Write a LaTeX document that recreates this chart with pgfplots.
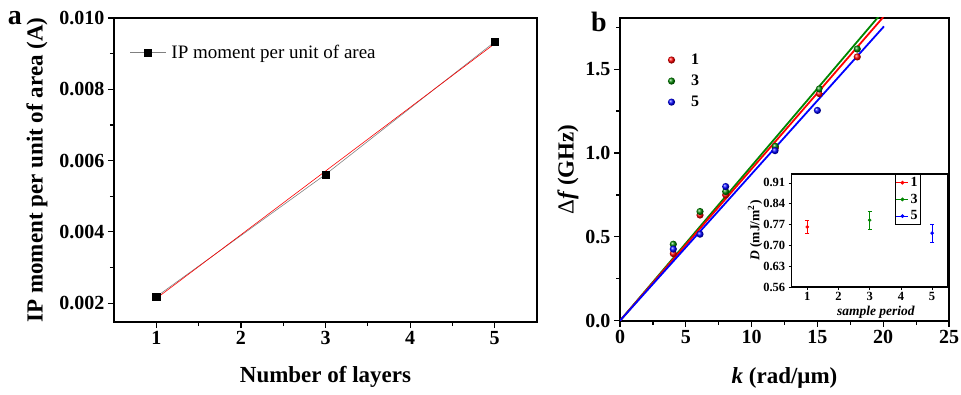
\documentclass[border=0pt]{standalone}
\usepackage{pgfplots}
\pgfplotsset{compat=1.18}
\usepackage{fontspec}
\setmainfont{Liberation Serif}
\definecolor{dgreen}{RGB}{0,135,0}
\begin{document}
\begin{tikzpicture}
\path[use as bounding box] (0pt,0pt) rectangle (961pt,394pt);
% ---------------- panel a ----------------
\begin{axis}[
  at={(114pt,72pt)}, anchor=south west, scale only axis,
  width=423pt, height=304pt,
  xmin=0.5, xmax=5.5, ymin=0.00147, ymax=0.010,
  xtick={1,2,3,4,5}, minor xtick={1.5,2.5,3.5,4.5},
  ytick={0.002,0.004,0.006,0.008,0.010}, minor ytick={0.003,0.005,0.007,0.009},
  scaled y ticks=false,
  xtick pos=bottom, ytick pos=left, tick align=outside,
  major tick length=6pt, minor tick length=4pt,
  axis line style={line width=1.6pt},
  every tick/.style={black, line width=1.2pt},
  /pgf/number format/assume math mode=true,
  tick label style={font=\fontsize{20}{22}\selectfont\bfseries},
  yticklabel style={/pgf/number format/.cd, fixed, fixed zerofill, precision=3, assume math mode=true},
  xlabel={Number of layers},
  ylabel={IP moment per unit of area (A)},
  xlabel style={at={(axis description cs:0.5,-0.181)}, anchor=center, font=\fontsize{23}{25}\selectfont\bfseries},
  ylabel style={at={(axis description cs:-0.182,0.5)}, rotate=0, anchor=center, font=\fontsize{23}{25}\selectfont\bfseries},
  legend style={at={(rel axis cs:0.03,0.925)}, anchor=north west, draw=none, fill=none,
    font=\fontsize{19}{21}\selectfont},
  legend image code/.code={\draw[mark repeat=2,mark phase=2,#1] plot coordinates {(0pt,0pt)(18pt,0pt)(36pt,0pt)}; \path (0pt,0pt) (39pt,0pt);},
]
\addplot[gray, line width=0.6pt, mark=square*, mark size=3.5pt, mark options={black, fill=black}]
  coordinates {(1,0.00218) (3,0.00561) (5,0.00933)};
\addlegendentry{IP moment per unit of area}
\addplot[red, line width=0.6pt, forget plot] coordinates {(1,0.00213) (5,0.00928)};
\addplot[only marks, mark=square*, mark size=3.5pt, black, forget plot]
  coordinates {(1,0.00218) (3,0.00561) (5,0.00933)};
\end{axis}
% ---------------- panel b ----------------
\begin{axis}[
  at={(620pt,73.3pt)}, anchor=south west, scale only axis,
  width=329pt, height=302.7pt,
  xmin=0, xmax=25, ymin=0, ymax=1.805,
  xtick={0,5,10,15,20,25}, minor xtick={2.5,7.5,12.5,17.5,22.5},
  ytick={0,0.5,1,1.5}, minor ytick={0.25,0.75,1.25,1.75},
  xtick pos=bottom, ytick pos=left, tick align=outside,
  major tick length=6pt, minor tick length=4pt,
  axis line style={line width=1.6pt},
  every tick/.style={black, line width=1.2pt},
  /pgf/number format/assume math mode=true,
  tick label style={font=\fontsize{20}{22}\selectfont\bfseries},
  yticklabel style={/pgf/number format/.cd, fixed, fixed zerofill, precision=1, assume math mode=true},
  xlabel={\textit{k} (rad/μm)},
  ylabel={{\mdseries Δ}\textit{f}\,(GHz)},
  xlabel style={at={(axis description cs:0.5,-0.188)}, anchor=center, font=\fontsize{23}{25}\selectfont\bfseries},
  ylabel style={at={(axis description cs:-0.158,0.5)}, rotate=0, anchor=center, font=\fontsize{23}{25}\selectfont\bfseries},
  legend style={at={(rel axis cs:0.121,0.895)}, anchor=north west, draw=none, fill=none,
    font=\fontsize{16}{18}\selectfont\bfseries, row sep=5pt},
  legend image code/.code={\draw[mark repeat=2,mark phase=2,#1] plot coordinates {(0pt,0pt)(8.5pt,0pt)(26pt,0pt)}; \path (0pt,0pt) (26pt,0pt);},
]
\addplot[only marks, mark=ball, mark size=3.6pt, mark options={ball color=red}, draw=none]
  coordinates {(4.05,0.40) (6.08,0.63) (8.03,0.75) (11.8,1.03) (15.15,1.354) (18.03,1.573)};
\addlegendentry{1}
\addplot[only marks, mark=ball, mark size=3.6pt, mark options={ball color=dgreen}, draw=none]
  coordinates {(4.05,0.456) (6.08,0.651) (8.03,0.77) (11.8,1.04) (15.15,1.382) (18.03,1.62)};
\addlegendentry{3}
\addplot[only marks, mark=ball, mark size=3.6pt, mark options={ball color=blue}, draw=none]
  coordinates {(4.05,0.427) (6.08,0.516) (8.03,0.80) (11.78,1.014) (15.0,1.254)};
\addlegendentry{5}
\addplot[dgreen, line width=1.8pt, forget plot] coordinates {(0,0) (20,1.846)};
\addplot[red, line width=1.8pt, forget plot] coordinates {(0,0) (20,1.81)};
\addplot[blue, line width=1.8pt, forget plot] coordinates {(0,0) (20.06,1.755)};
\end{axis}
% ---------------- inset ----------------
\begin{axis}[
  at={(791.7pt,107pt)}, anchor=south west, scale only axis,
  width=156pt, height=113pt,
  axis background/.style={fill=white},
  xmin=0.5, xmax=5.5, ymin=0.56, ymax=0.94,
  xtick={1,2,3,4,5},
  ytick={0.56,0.63,0.70,0.77,0.84,0.91},
  xtick pos=bottom, ytick pos=left, tick align=outside,
  major tick length=3pt,
  axis line style={line width=1.1pt},
  every tick/.style={black, line width=0.8pt},
  /pgf/number format/assume math mode=true,
  tick label style={font=\fontsize{12.5}{13}\selectfont\bfseries},
  xticklabel style={yshift=1pt},
  yticklabel style={/pgf/number format/.cd, fixed, fixed zerofill, precision=2, assume math mode=true},
  xlabel={\textit{sample period}},
  ylabel={\textit{D} (mJ/m\textsuperscript{2})},
  xlabel style={at={(axis description cs:0.54,-0.225)}, anchor=center, font=\fontsize{13.5}{15}\selectfont\bfseries},
  ylabel style={at={(axis description cs:-0.235,0.5)}, rotate=0, anchor=center, font=\fontsize{13.5}{15}\selectfont\bfseries},
  legend style={at={(rel axis cs:0.829,1)}, anchor=north east, draw=black, line width=0.6pt, fill=white,
    font=\fontsize{14}{14}\selectfont\bfseries, inner sep=1pt, row sep=2pt},
  legend image code/.code={\draw[mark repeat=2,mark phase=2,#1, line width=0.6pt] plot coordinates {(0pt,0pt)(6pt,0pt)(12pt,0pt)};},
  error bars/error bar style={line width=0.6pt},
]
\addplot[red, mark=*, mark size=1.6pt, error bars/.cd, y dir=both, y explicit,
  error mark options={rotate=90, mark size=2pt, red}]
  coordinates {(1,0.762) +- (0,0.021)};
\addlegendentry{1}
\addplot[dgreen, mark=*, mark size=1.6pt, error bars/.cd, y dir=both, y explicit,
  error mark options={rotate=90, mark size=2pt, dgreen}]
  coordinates {(3,0.785) +- (0,0.031)};
\addlegendentry{3}
\addplot[blue, mark=*, mark size=1.6pt, error bars/.cd, y dir=both, y explicit,
  error mark options={rotate=90, mark size=2pt, blue}]
  coordinates {(5,0.741) +- (0,0.029)};
\addlegendentry{5}
\end{axis}
% panel letters
\node[anchor=base, font=\fontsize{28}{28}\selectfont\bfseries, inner sep=0pt] at (15pt,369pt) {a};
\node[anchor=base, font=\fontsize{28}{28}\selectfont\bfseries, inner sep=0pt] at (599pt,362.3pt) {b};
\end{tikzpicture}
\end{document}
